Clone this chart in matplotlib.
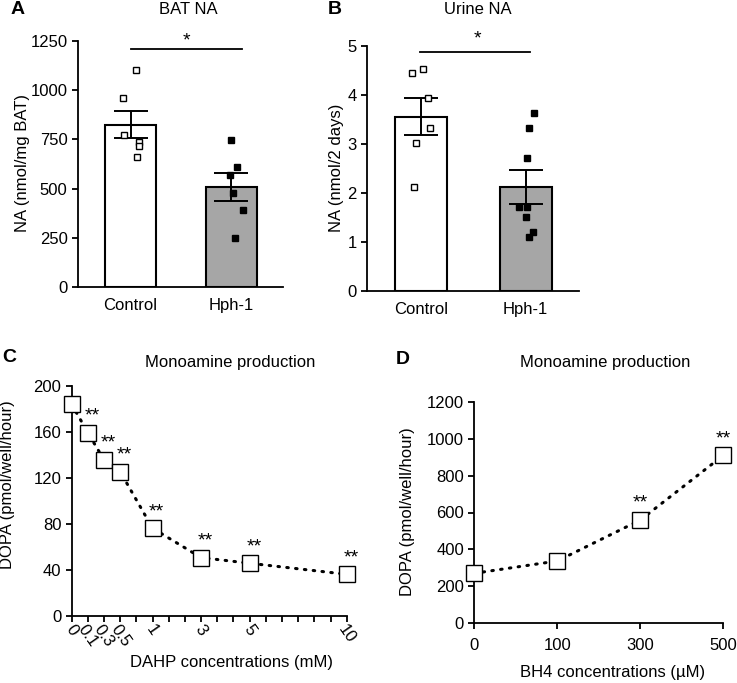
import numpy as np
import matplotlib
matplotlib.use("Agg")
import matplotlib.pyplot as plt

plt.rcParams['font.family'] = ['Liberation Sans', 'DejaVu Sans']
plt.rcParams['font.size'] = 12

# panel A - BAT NA
groups = ['Control', 'Hph-1']
bat_mean = [825, 507]
bat_sem = [68, 71]
bat_ctrl = [1103, 962, 774, 738, 716, 660]
bat_ctrl_dx = [0.056, -0.072, -0.066, 0.08, 0.08, 0.063]
bat_hph = [747, 611, 569, 476, 390, 251]
bat_hph_dx = [0.0, 0.054, -0.015, 0.01, 0.11, 0.035]

# panel B - urine NA
urine_mean = [3.56, 2.12]
urine_sem = [0.38, 0.34]
urine_ctrl = [4.44, 4.54, 3.93, 3.33, 3.02, 2.12]
urine_ctrl_dx = [-0.09, 0.02, 0.06, 0.085, -0.047, -0.066]
urine_hph = [3.63, 3.33, 2.72, 1.72, 1.72, 1.51, 1.20, 1.10]
urine_hph_dx = [0.08, 0.03, 0.01, -0.06, 0.01, 0.0, 0.07, 0.03]

# panel C - DAHP
dahp_labels = ['0', '0.1', '0.3', '0.5', '1', '3', '5', '10']
dahp_slot = [0, 1, 2, 3, 5, 8, 11, 17]
dahp_dopa = [183.8, 159.2, 135.5, 125.3, 76.2, 50.7, 45.8, 36.2]
dahp_sig = ['', '**', '**', '**', '**', '**', '**', '**']

# panel D - BH4
bh4_labels = ['0', '100', '300', '500']
bh4_dopa = [269, 336, 559, 911]
bh4_sig = ['', '', '**', '**']

W, H = 737, 683
fig = plt.figure(figsize=(W / 100, H / 100), dpi=100)


def px_axes(x0, y_top, x1, y_bot):
    return fig.add_axes([x0 / W, 1 - y_bot / H, (x1 - x0) / W, (y_bot - y_top) / H])


def style(ax):
    for s in ['top', 'right']:
        ax.spines[s].set_visible(False)
    for s in ['left', 'bottom']:
        ax.spines[s].set_linewidth(1.3)
    ax.tick_params(width=1.3, length=4, labelsize=12)


def bar_panel(ax, means, sems, ctrl, ctrl_dx, hph, hph_dx, ylim, yticks):
    style(ax)
    ax.bar([0, 1], means, width=0.5, color=['white', '#a6a6a6'],
           edgecolor='black', linewidth=1.5, zorder=1)
    ax.errorbar([0, 1], means, yerr=sems, fmt='none', ecolor='black',
                elinewidth=1.4, capsize=12, capthick=1.4, zorder=3)
    ax.plot(np.array(ctrl_dx), ctrl, 's', ms=4.3, mfc='white', mec='black',
            mew=1.0, ls='none', zorder=4)
    ax.plot(1 + np.array(hph_dx), hph, 's', ms=4.3, mfc='black', mec='black',
            ls='none', zorder=4)
    ax.set_xlim(-0.52, 1.51)
    ax.set_ylim(*ylim)
    ax.set_yticks(yticks)
    ax.set_xticks([0, 1])
    ax.set_xticklabels(groups)
    ax.tick_params(axis='x', length=0, pad=8)


# A
axA = px_axes(78, 41, 283, 287)
bar_panel(axA, bat_mean, bat_sem, bat_ctrl, bat_ctrl_dx, bat_hph, bat_hph_dx,
          (0, 1250), [0, 250, 500, 750, 1000, 1250])
axA.plot([0, 1.1], [1209, 1209], color='black', lw=1.3, clip_on=False)
axA.text(0.55, 1250, '*', ha='center', va='center', fontsize=14)

# B
axB = px_axes(367, 46, 579, 291)
bar_panel(axB, urine_mean, urine_sem, urine_ctrl, urine_ctrl_dx, urine_hph, urine_hph_dx,
          (0, 5), [0, 1, 2, 3, 4, 5])
axB.plot([-0.01, 1.04], [4.88, 4.88], color='black', lw=1.3, clip_on=False)
axB.text(0.54, 5.14, '*', ha='center', va='center', fontsize=14)


def line_panel(ax, x, y, sig, ms, dx):
    style(ax)
    ax.plot(x, y, color='black', ls=(0, (0.5, 2.4)), lw=2.2,
            dash_capstyle='round', zorder=2, clip_on=False)
    ax.plot(x, y, 's', ms=ms, mfc='white', mec='black', mew=1.0, ls='none',
            zorder=3, clip_on=False)
    for xi, yi, s in zip(x, y, sig):
        if s:
            ax.annotate(s, (xi, yi), xytext=(dx, 12), textcoords='offset points',
                        ha='center', va='center', fontsize=14)


# C
axC = px_axes(71.7, 385.7, 346.7, 616)
line_panel(axC, dahp_slot, dahp_dopa, dahp_sig, 11.5, 3)
axC.set_xlim(0, 17)
axC.set_ylim(0, 200)
axC.set_yticks([0, 40, 80, 120, 160, 200])
axC.set_xticks(range(18))
lab = [''] * 18
for s, l in zip(dahp_slot, dahp_labels):
    lab[s] = l
axC.set_xticklabels(lab, rotation=-55, ha='center', va='top')
axC.tick_params(axis='x', pad=0.5)

# D
axD = px_axes(474.3, 402.3, 723.3, 622.7)
line_panel(axD, range(len(bh4_labels)), bh4_dopa, bh4_sig, 12, 0)
axD.set_xlim(0, 3)
axD.set_ylim(0, 1200)
axD.set_yticks([0, 200, 400, 600, 800, 1000, 1200])
axD.set_xticks(range(len(bh4_labels)))
axD.set_xticklabels(bh4_labels)
axD.tick_params(axis='x', pad=7)

# texts
fig.text(18 / W, 1 - 10 / H, 'A', fontsize=14, fontweight='bold', ha='center', va='center')
fig.text(335 / W, 1 - 10 / H, 'B', fontsize=14, fontweight='bold', ha='center', va='center')
fig.text(9 / W, 1 - 357 / H, 'C', fontsize=14, fontweight='bold', ha='center', va='center')
fig.text(403 / W, 1 - 360 / H, 'D', fontsize=14, fontweight='bold', ha='center', va='center')

fig.text(188 / W, 1 - 9 / H, 'BAT NA', ha='center', va='center')
fig.text(478 / W, 1 - 9 / H, 'Urine NA', ha='center', va='center')
fig.text(230 / W, 1 - 362 / H, 'Monoamine production', ha='center', va='center')
fig.text(605 / W, 1 - 362 / H, 'Monoamine production', ha='center', va='center')

fig.text(23 / W, 1 - 163 / H, 'NA (nmol/mg BAT)', rotation=90, ha='center', va='center')
fig.text(337 / W, 1 - 168 / H, 'NA (nmol/2 days)', rotation=90, ha='center', va='center')
fig.text(8 / W, 1 - 485 / H, 'DOPA (pmol/well/hour)', rotation=90, ha='center', va='center')
fig.text(407 / W, 1 - 512 / H, 'DOPA (pmol/well/hour)', rotation=90, ha='center', va='center')

fig.text(231 / W, 1 - 662 / H, 'DAHP concentrations (mM)', ha='center', va='center')
fig.text(613 / W, 1 - 673 / H, 'BH4 concentrations (\u00b5M)', ha='center', va='center')

fig.savefig('out.png', dpi=100)
